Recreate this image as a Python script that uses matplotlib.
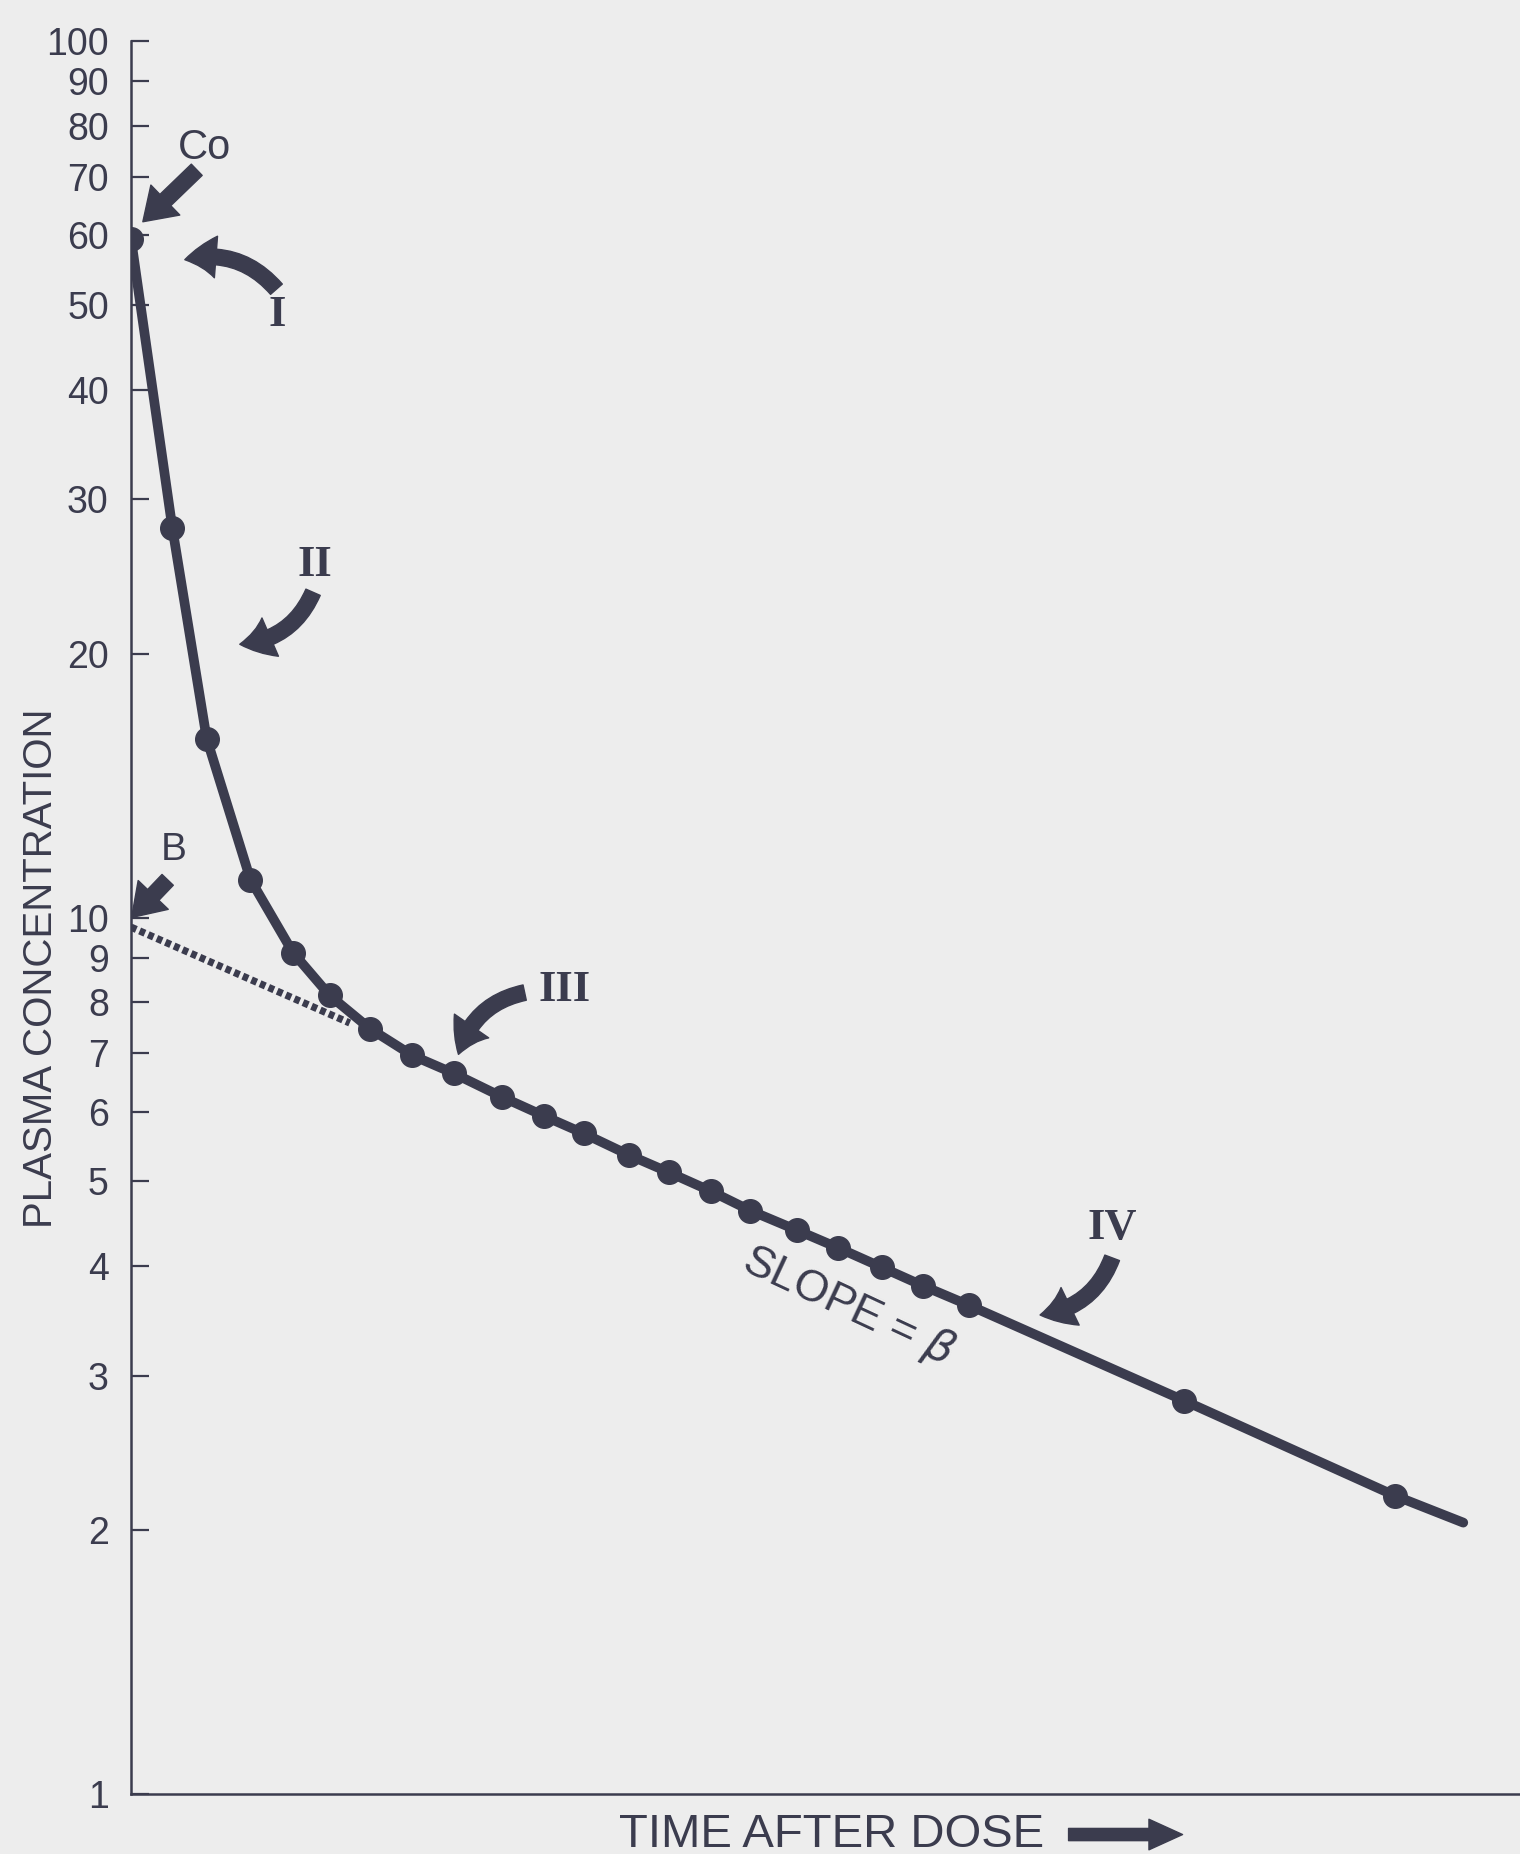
import numpy as np
import matplotlib
matplotlib.use("Agg")
import matplotlib.pyplot as plt
from matplotlib.ticker import FixedLocator, NullLocator

# --- data (time in arbitrary units, concentration on log scale) ---
times = [0.00, 0.35, 0.64, 1.01, 1.37, 1.68, 2.02, 2.38, 2.73, 3.14, 3.49, 3.83,
         4.21, 4.55, 4.91, 5.24, 5.63, 5.98, 6.35, 6.70, 7.09, 8.91, 10.69]
conc = [59.5, 27.8, 16.0, 11.05, 9.12, 8.15, 7.47, 6.96, 6.64, 6.24, 5.94, 5.67,
        5.36, 5.12, 4.87, 4.63, 4.40, 4.20, 3.99, 3.80, 3.61, 2.81, 2.19]

# where the drawn line stops, past the last dot
line_end_time = 11.27
line_end_conc = 2.04

# back-extrapolated terminal phase (dotted), intercept B
extrap_time = [0.0, 1.85]
extrap_conc = [9.75, 7.58]

ytick_vals = [1, 2, 3, 4, 5, 6, 7, 8, 9, 10, 20, 30, 40, 50, 60, 70, 80, 90, 100]
ytick_labels = [str(v) for v in ytick_vals]

INK = "#3b3c4e"
BG = "#ededed"

fig = plt.figure(figsize=(15.2, 18.54), dpi=100, facecolor=BG)
ax = fig.add_axes([0.0862, 0.03236, 0.9138, 0.94552])
ax.set_facecolor(BG)

ax.set_yscale("log")
ax.set_xlim(0, 11.75)
ax.set_ylim(1, 100)

# curve
ax.plot(times + [line_end_time], conc + [line_end_conc], color=INK, lw=7,
        solid_capstyle="round", solid_joinstyle="round", zorder=3)
ax.plot(times, conc, "o", color=INK, ms=17, zorder=4)
ax.plot(extrap_time, extrap_conc, color=INK, lw=5.2,
        linestyle=(0, (0.8, 0.5)), dash_capstyle="butt", zorder=2)

# axes styling
for side in ["top", "right"]:
    ax.spines[side].set_visible(False)
for side in ["left", "bottom"]:
    ax.spines[side].set_color(INK)
    ax.spines[side].set_linewidth(1.8)
ax.xaxis.set_major_locator(NullLocator())
ax.xaxis.set_minor_locator(NullLocator())
ax.yaxis.set_major_locator(FixedLocator(ytick_vals))
ax.yaxis.set_minor_locator(NullLocator())
ax.set_yticklabels(ytick_labels)
ax.tick_params(axis="y", direction="in", length=13, width=1.6, color=INK,
               pad=16, labelsize=27, labelcolor=INK)
for lab in ax.get_yticklabels():
    lab.set_fontfamily("Liberation Sans")

# axis titles
fig.text(0.027, 0.478, "PLASMA CONCENTRATION", rotation=90, ha="center", va="center",
         fontsize=29, color=INK, family="Liberation Sans")
fig.text(0.547, 0.0105, "TIME AFTER DOSE", ha="center", va="center",
         fontsize=34, color=INK, family="Liberation Sans")
ax.annotate("", xy=(0.778, 0.0105), xytext=(0.703, 0.0105), xycoords="figure fraction",
            textcoords="figure fraction", annotation_clip=False,
            arrowprops=dict(arrowstyle="simple,head_length=1.1,head_width=1.0,tail_width=0.4",
                            color=INK, shrinkA=0, shrinkB=0, mutation_scale=22))

# labels on the curve
ax.text(0.62, 75.5, "Co", fontsize=30, color=INK, family="Liberation Sans",
        ha="center", va="center")
ax.text(0.36, 11.95, "B", fontsize=28, color=INK, family="Liberation Sans",
        ha="center", va="center")
roman = [("I", 1.24, 48.7), ("II", 1.555, 25.25), ("III", 3.67, 8.27), ("IV", 8.30, 4.42)]
for txt, tx, ty in roman:
    ax.text(tx, ty, txt, fontsize=32, color=INK, family="Liberation Serif",
            weight="bold", ha="center", va="center")
ax.text(6.07, 3.60, "SLOPE = $\\beta$", rotation=-25, fontsize=32, color=INK,
        family="Liberation Sans", ha="center", va="center", rotation_mode="anchor")

# arrows: (tail, head, curvature)
arrows = [((0.556, 71.3), (0.10, 62.2), 0.0),
          ((1.23, 52.1), (0.455, 56.3), 0.3),
          ((1.54, 23.5), (0.92, 20.5), -0.3),
          ((3.33, 8.21), (2.77, 6.98), 0.3),
          ((8.30, 4.09), (7.69, 3.52), -0.3),
          ((0.31, 11.04), (0.005, 10.0), 0.0)]
for (t0, c0), (t1, c1), rad in arrows:
    ax.annotate("", xy=(t1, c1), xytext=(t0, c0), annotation_clip=False,
                arrowprops=dict(arrowstyle="simple,head_length=0.9,head_width=1.2,tail_width=0.45",
                                connectionstyle=f"arc3,rad={rad}", color=INK,
                                shrinkA=0, shrinkB=0, mutation_scale=25))

fig.savefig("out.png", dpi=100, facecolor=BG)
